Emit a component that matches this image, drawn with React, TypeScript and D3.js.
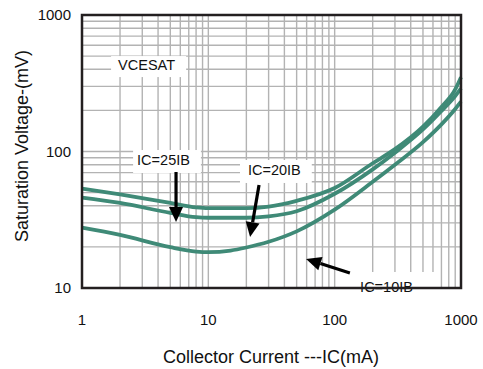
import React, { useEffect, useRef } from "react";
import * as d3 from "d3";

// ---- data ----
const xTickValues = [1, 10, 100, 1000];
const yTickValues = [10, 100, 1000];
const currents = [1, 2, 5, 8, 10, 15, 20, 30, 50, 100, 200, 300, 500, 700, 900, 1000];
const vIC25 = [53.5, 48.5, 42, 39, 38.5, 38.5, 38.5, 39.5, 43.5, 54, 82, 104, 152, 212, 285, 350];
const vIC20 = [46, 42, 35.5, 33, 32.7, 32.7, 32.7, 33.5, 36.5, 49, 74, 98, 145, 198, 255, 290];
const vIC10 = [27.7, 24.5, 19.9, 18.5, 18.3, 18.8, 19.8, 21.8, 26, 37.5, 60, 80, 117, 158, 205, 232];

const labelTexts = ["VCESAT", "IC=25IB", "IC=20IB", "IC=10IB"];
// text anchor (start, baseline) in data space
const labelAnchors: [number, number][] = [
  [1.93, 395],
  [2.73, 79.6],
  [20.6, 67.3],
  [159, 9.35],
];
// box padding [left, right, top, bottom] px
const labelPads = [
  [7, 11, 3, 4],
  [4, 11, 4, 5],
  [8, 11, 4, 5],
  [20, 22, 9, 0],
];
// arrows: [fromC, fromV, toC, toV]
const arrows: [number, number, number, number][] = [
  [5.55, 70.8, 5.55, 30.4],
  [25.2, 56.8, 21.4, 23.6],
  [132, 12.9, 59.4, 16.3],
];

const xTitle = "Collector Current ---IC(mA)";
const yTitle = "Saturation Voltage-(mV)";

const W = 483;
const H = 369;
const FONT = "'Liberation Sans', Arial, Helvetica, sans-serif";
const GREEN = "#3f8a77";
const DARK = "#231f20";

export default function App() {
  const ref = useRef<SVGSVGElement>(null);

  useEffect(() => {
    const svg = d3.select(ref.current);
    svg.selectAll("*").remove();

    const x = d3.scaleLog().domain([1, 1000]).range([82, 461]);
    const y = d3.scaleLog().domain([10, 1000]).range([288, 15]);

    // grid
    const grid = svg.append("g").attr("stroke", "#b3b3b3").attr("stroke-width", 1.4);
    const xs: number[] = [];
    for (let d = 1; d <= 100; d *= 10) for (let k = 1; k <= 9; k++) xs.push(k * d);
    xs.filter((c) => c > 1).forEach((c) => {
      grid.append("line").attr("x1", x(c)).attr("x2", x(c)).attr("y1", y(10)).attr("y2", y(1000));
    });
    const ys: number[] = [];
    for (let d = 10; d <= 100; d *= 10) for (let k = 1; k <= 9; k++) ys.push(k * d);
    ys.filter((v) => v > 10).forEach((v) => {
      grid.append("line").attr("x1", x(1)).attr("x2", x(1000)).attr("y1", y(v)).attr("y2", y(v));
    });

    // labels with white boxes
    const boxG = svg.append("g");
    const textG = svg.append("g");
    labelTexts.forEach((t, i) => {
      const [c, v] = labelAnchors[i];
      const txt = textG
        .append("text")
        .attr("x", x(c))
        .attr("y", y(v))
        .attr("font-family", FONT)
        .attr("font-size", 14.5)
        .attr("fill", "#111")
        .text(t);
      const bb = (txt.node() as SVGTextElement).getBBox();
      const [pl, pr, pt, pb] = labelPads[i];
      const top = bb.y + pt * 0 - pt;
      boxG
        .append("rect")
        .attr("x", bb.x - pl)
        .attr("y", top + 2)
        .attr("width", bb.width + pl + pr)
        .attr("height", bb.height + pt + pb - 2)
        .attr("fill", "#fff");
    });

    // curves
    const line = d3
      .line<[number, number]>()
      .x((d) => x(d[0]))
      .y((d) => y(d[1]))
      .curve(d3.curveMonotoneX);
    [vIC25, vIC20, vIC10].forEach((vals) => {
      svg
        .insert("path", () => textG.node())
        .attr("d", line(currents.map((c, i) => [c, vals[i]] as [number, number])))
        .attr("fill", "none")
        .attr("stroke", GREEN)
        .attr("stroke-width", 3.8)
        .attr("stroke-linejoin", "round");
    });

    // arrows
    arrows.forEach(([c0, v0, c1, v1]) => {
      const x0 = x(c0), y0 = y(v0), x1 = x(c1), y1 = y(v1);
      const ang = Math.atan2(y1 - y0, x1 - x0);
      const headL = 15, headW = 7;
      const bx = x1 - headL * Math.cos(ang);
      const by = y1 - headL * Math.sin(ang);
      svg
        .append("line")
        .attr("x1", x0).attr("y1", y0).attr("x2", bx).attr("y2", by)
        .attr("stroke", "#000").attr("stroke-width", 3.2);
      const px = -Math.sin(ang), py = Math.cos(ang);
      svg
        .append("path")
        .attr(
          "d",
          `M${x1},${y1}L${bx + px * headW},${by + py * headW}L${bx - px * headW},${by - py * headW}Z`
        )
        .attr("fill", "#000");
    });

    // frame
    svg
      .append("rect")
      .attr("x", x(1))
      .attr("y", y(1000))
      .attr("width", x(1000) - x(1))
      .attr("height", y(10) - y(1000))
      .attr("fill", "none")
      .attr("stroke", DARK)
      .attr("stroke-width", 2.5);

    // tick labels
    const tl = svg.append("g").attr("font-family", FONT).attr("font-size", 15).attr("fill", "#111");
    xTickValues.forEach((c) => {
      tl.append("text").attr("x", x(c)).attr("y", 325).attr("text-anchor", "middle").text(String(c));
    });
    yTickValues.forEach((v) => {
      tl.append("text")
        .attr("x", 71)
        .attr("y", y(v))
        .attr("dy", "0.35em")
        .attr("text-anchor", "end")
        .text(String(v));
    });

    // titles
    svg
      .append("text")
      .attr("x", 271)
      .attr("y", 363)
      .attr("text-anchor", "middle")
      .attr("font-family", FONT)
      .attr("font-size", 18)
      .attr("fill", "#111")
      .text(xTitle);
    svg
      .append("text")
      .attr("transform", `translate(28,146) rotate(-90)`)
      .attr("text-anchor", "middle")
      .attr("font-family", FONT)
      .attr("font-size", 18)
      .attr("fill", "#111")
      .text(yTitle);
  }, []);

  return (
    <svg
      ref={ref}
      width={W}
      height={H}
      style={{ position: "absolute", left: 0, top: 0, background: "#fff" }}
    />
  );
}
